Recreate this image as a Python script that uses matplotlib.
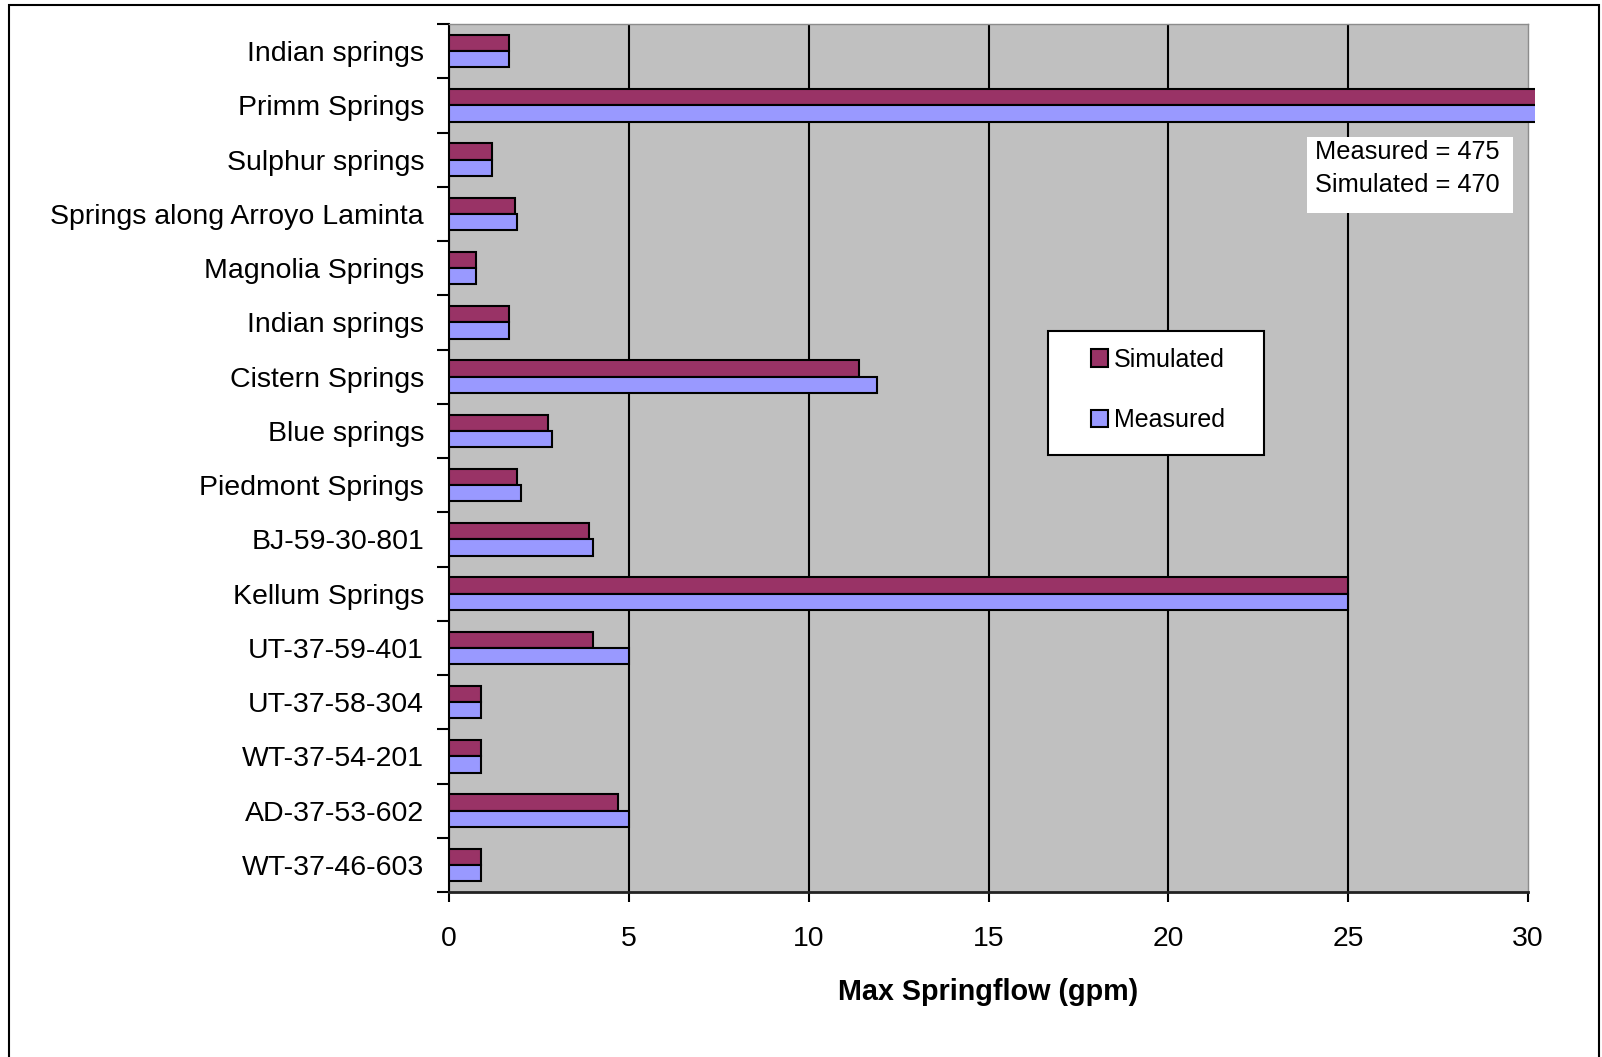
import matplotlib
matplotlib.use("Agg")
import matplotlib.pyplot as plt
from matplotlib.patches import Rectangle
import numpy as np

categories = ["Indian springs", "Primm Springs", "Sulphur springs",
              "Springs along Arroyo Laminta", "Magnolia Springs", "Indian springs",
              "Cistern Springs", "Blue springs", "Piedmont Springs", "BJ-59-30-801",
              "Kellum Springs", "UT-37-59-401", "UT-37-58-304", "WT-37-54-201",
              "AD-37-53-602", "WT-37-46-603"]
simulated = [1.67, 470, 1.2, 1.83, 0.75, 1.67, 11.4, 2.75, 1.9, 3.9, 25, 4.0, 0.9, 0.9, 4.7, 0.9]
measured = [1.67, 475, 1.2, 1.9, 0.75, 1.67, 11.9, 2.85, 2.0, 4.0, 25, 5.0, 0.9, 0.9, 5.0, 0.9]
xticks = [0, 5, 10, 15, 20, 25, 30]
note_lines = ["Measured = 475", "Simulated = 470"]

plt.rcParams['font.family'] = ['Liberation Sans', 'DejaVu Sans']

W, H = 1602, 1057
fig = plt.figure(figsize=(W / 100, H / 100), dpi=100)
fig.patch.set_facecolor("white")

L, R, T, B = 449, 1528, 24, 892
ax = fig.add_axes([L / W, 1 - B / H, (R - L) / W, (B - T) / H])
ax.set_facecolor("#C0C0C0")

y = np.arange(len(categories))
bh = 0.3
sim_c = "#993366"
meas_c = "#9999FF"
b1 = ax.barh(y - bh / 2, simulated, height=bh, color=sim_c, edgecolor="black",
             linewidth=1.5, label="Simulated", zorder=3)
b2 = ax.barh(y + bh / 2, measured, height=bh, color=meas_c, edgecolor="black",
             linewidth=1.5, label="Measured", zorder=3)

ax.set_xlim(0, 30)
ax.set_ylim(len(categories) - 0.5, -0.5)

# slightly extended clip region so off-scale bars poke past the plot edge
clip = Rectangle((0, 0), 1.0065, 1, transform=ax.transAxes, facecolor="none")
for bars in (b1, b2):
    for p in bars:
        p.set_clip_path(clip)

# ticks
ax.set_xticks(xticks)
ax.set_xticklabels([str(v) for v in xticks], fontsize=20.4)
ax.tick_params(axis="x", direction="out", length=7.2, width=1.5, pad=17)
ax.set_yticks(np.arange(len(categories) + 1) - 0.5)
ax.set_yticklabels([])
ax.tick_params(axis="y", which="major", direction="out", length=8.6, width=1.5)
ax.set_yticks(y, minor=True)
ax.set_yticklabels(categories, minor=True, fontsize=20.5)
ax.tick_params(axis="y", which="minor", length=0, pad=18)

ax.grid(axis="x", color="black", linewidth=1.5, zorder=1)
ax.set_axisbelow(True)
gls = ax.xaxis.get_gridlines()
gls[-1].set_visible(False)

for s in ("top", "right"):
    ax.spines[s].set_color("#8c8c8c")
    ax.spines[s].set_linewidth(1.0)
ax.spines["left"].set_linewidth(1.5)
ax.spines["bottom"].set_linewidth(2.0)
ax.spines["bottom"].set_color("#222222")

ax.set_xlabel("Max Springflow (gpm)", fontsize=20.7, fontweight="bold", va="center")
ax.xaxis.set_label_coords(0.5, (B - 991.7) / (B - T))

# annotation box
fig.patches.append(Rectangle((1307 / W, 1 - 213 / H), (1513 - 1307) / W, (213 - 137) / H,
                             transform=fig.transFigure, facecolor="white",
                             edgecolor="none", zorder=5))
fig.text(1315 / W, 1 - 151.7 / H, note_lines[0], fontsize=18.3, va="center", ha="left", zorder=6)
fig.text(1315 / W, 1 - 185 / H, note_lines[1], fontsize=18.3, va="center", ha="left", zorder=6)

# legend with manual frame
fig.patches.append(Rectangle((1048 / W, 1 - 455 / H), (1264 - 1048) / W, (455 - 331) / H,
                             transform=fig.transFigure, facecolor="white",
                             edgecolor="black", linewidth=1.5, zorder=5))
leg = fig.legend(handles=[b1, b2], labels=["Simulated", "Measured"],
                 loc="center", bbox_to_anchor=(1158 / W, 1 - 390 / H),
                 frameon=False, fontsize=18, handlelength=0.65, handleheight=0.7,
                 handletextpad=0.25, labelspacing=1.45, borderpad=0)
leg.set_zorder(6)

# outer border
fig.patches.append(Rectangle((8.5 / W, -0.05), (1599 - 8.5) / W, 1.05 - 5 / H,
                             transform=fig.transFigure, facecolor="none",
                             edgecolor="black", linewidth=1.5, zorder=0))

fig.savefig("out.png", dpi=100)
